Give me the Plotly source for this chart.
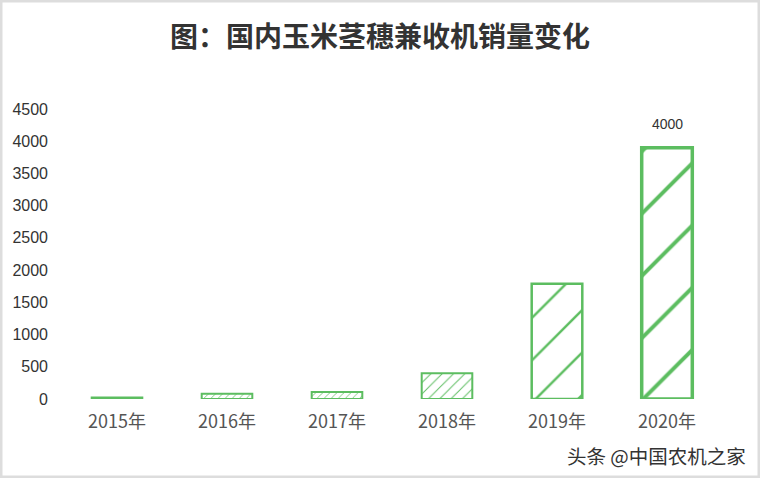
import plotly.graph_objects as go

years = ["2015年", "2016年", "2017年", "2018年", "2019年", "2020年"]
sales = [25, 80, 110, 400, 1790, 3900]
labels = ["", "", "", "", "", "4000"]
tick_vals = [0, 500, 1000, 1500, 2000, 2500, 3000, 3500, 4000, 4500]

green = "#5cbd60"

fig = go.Figure()
fig.add_trace(go.Bar(
    x=years, y=sales,
    width=0.46,
    marker=dict(
        color="white",
        line=dict(color=green, width=[2, 2, 2, 2, 2.5, 3.5]),
        pattern=dict(shape="/", fgcolor=green, fgopacity=1,
                     size=[4, 5, 5, 8, 30, 44], solidity=[0.15, 0.15, 0.15, 0.12, 0.08, 0.09]),
    ),
    cliponaxis=False,
))

label_annotations = [
    dict(x=x, y=v, text=t, xref="x", yref="y", showarrow=False, yshift=24,
         font=dict(family="Liberation Sans, Arial", size=14, color="#333333"))
    for x, v, t in zip(years, sales, labels) if t
]

fig.update_layout(
    width=760, height=478,
    margin=dict(l=62, r=38, t=109, b=79),
    paper_bgcolor="white", plot_bgcolor="white",
    showlegend=False,
    title=dict(text="<b>图：国内玉米茎穗兼收机销量变化</b>", x=0.5, xanchor="center",
               y=1 - 37/478, yanchor="middle",
               font=dict(family="Noto Sans CJK SC", size=28, color="#333333")),
    xaxis=dict(showgrid=False, showline=False, zeroline=False, ticks="", ticklabelstandoff=10,
               tickfont=dict(family="Noto Sans CJK SC", size=18, color="#555555")),
    yaxis=dict(range=[0, 4500], tickvals=tick_vals, showgrid=False, showline=False,
               zeroline=False, ticks="", ticklabelstandoff=13,
               tickfont=dict(family="Liberation Sans, Arial", size=16, color="#333333")),
    shapes=[dict(type="rect", xref="paper", yref="paper",
                 x0=-61/660, x1=1+37/660, y0=-78/290, y1=1+108/290,
                 line=dict(color="#dddddd", width=3), fillcolor="rgba(0,0,0,0)", layer="below")],
    annotations=label_annotations + [
        dict(text="头条 @中国农机之家", xref="paper", yref="paper",
             x=(748-62)/660, y=-56/290, xanchor="right", yanchor="middle", showarrow=False,
             font=dict(family="Noto Sans CJK SC", size=19.5, color="#333333"))],
)

fig.write_html("out.html", config={"displayModeBar": False},
               post_script="document.body.style.margin='0';document.body.style.padding='0';")
